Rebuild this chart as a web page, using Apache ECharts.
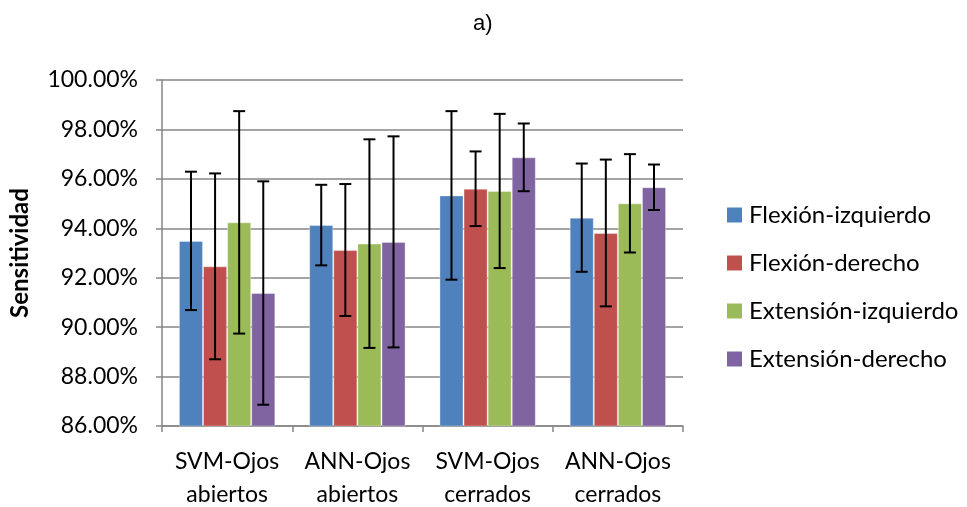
<!DOCTYPE html>
<html><head><meta charset="utf-8">
<script src="https://cdn.jsdelivr.net/npm/echarts@6/dist/echarts.min.js"></script>
<style>html,body{margin:0;padding:0;background:#fff}#c{width:967px;height:507px}</style>
</head><body><div id="c"></div>
<script>
const categories = ['SVM-Ojos\nabiertos', 'ANN-Ojos\nabiertos', 'SVM-Ojos\ncerrados', 'ANN-Ojos\ncerrados'];
const seriesNames = ['Flexión-izquierdo', 'Flexión-derecho', 'Extensión-izquierdo', 'Extensión-derecho'];
const flexIzq = [93.49, 94.13, 95.33, 94.43];
const flexDer = [92.46, 93.12, 95.60, 93.81];
const extIzq = [94.24, 93.38, 95.51, 95.01];
const extDer = [91.38, 93.45, 96.87, 95.66];
const errFlexIzq = [2.80, 1.63, 3.41, 2.19];
const errFlexDer = [3.76, 2.67, 1.51, 2.97];
const errExtIzq = [4.50, 4.22, 3.12, 1.99];
const errExtDer = [4.52, 4.27, 1.37, 0.92];
const yTicks = { min: 86, max: 100, interval: 2 };

const values = [flexIzq, flexDer, extIzq, extDer];
const errors = [errFlexIzq, errFlexDer, errExtIzq, errExtDer];
const colors = ['#4F81BD', '#C0504D', '#9BBB59', '#8064A2'];
const catGap = 0.26;
const font = 'Lato, "Open Sans", sans-serif';

const series = [];
values.forEach((v, i) => {
  series.push({
    name: seriesNames[i], type: 'bar', data: v,
    barGap: '0%', barCategoryGap: (catGap * 100) + '%',
    itemStyle: { color: colors[i], borderColor: 'rgba(255,255,255,0.35)', borderWidth: 1 },
    z: 2
  });
});
values.forEach((v, i) => {
  series.push({
    type: 'custom', name: seriesNames[i] + '-err', z: 5, silent: true,
    data: v.map((val, k) => [k, val - errors[i][k], val + errors[i][k]]),
    renderItem: function (params, api) {
      const k = api.value(0);
      const band = api.size([1, 0])[0];
      const bw = band * (1 - catGap) / 4;
      const base = api.coord([k, api.value(1)]);
      const top = api.coord([k, api.value(2)]);
      const x = base[0] - band * (1 - catGap) / 2 + bw * (i + 0.5);
      const cap = 6;
      const style = { stroke: '#000', lineWidth: 2 };
      return { type: 'group', children: [
        { type: 'line', shape: { x1: x, y1: top[1], x2: x, y2: base[1] }, style },
        { type: 'line', shape: { x1: x - cap, y1: top[1], x2: x + cap, y2: top[1] }, style },
        { type: 'line', shape: { x1: x - cap, y1: base[1], x2: x + cap, y2: base[1] }, style }
      ]};
    }
  });
});

const chart = echarts.init(document.getElementById('c'));
chart.setOption({
  animation: false,
  title: { text: 'a)', left: 468, top: 8,
    textStyle: { fontFamily: '"Liberation Sans", Arial, sans-serif', fontSize: 22, fontWeight: 'normal', color: '#000' } },
  legend: {
    data: seriesNames, orient: 'vertical', left: 727, top: 203, itemGap: 24, padding: 0,
    itemWidth: 15, itemHeight: 15, icon: 'rect', itemStyle: { borderWidth: 0 },
    textStyle: { fontFamily: font, fontSize: 24, color: '#000', padding: [0, 0, 0, 2] }
  },
  grid: { left: 162, right: 284, top: 80, bottom: 81, containLabel: false, outerBoundsMode: 'none' },
  xAxis: {
    type: 'category', data: categories,
    axisLine: { lineStyle: { color: '#868686', width: 1.5 } },
    axisTick: { show: true, length: 6, lineStyle: { color: '#868686', width: 1.5 } },
    axisLabel: { interval: 0, fontFamily: font, fontSize: 23, color: '#000', lineHeight: 33, margin: 19 }
  },
  yAxis: {
    type: 'value', min: yTicks.min, max: yTicks.max, interval: yTicks.interval,
    name: 'Sensitividad', nameLocation: 'middle', nameGap: 130, nameRotate: 90,
    nameTextStyle: { fontFamily: font, fontSize: 24, fontWeight: 'bold', color: '#000' },
    axisLine: { show: true, lineStyle: { color: '#868686', width: 1.5 } },
    axisTick: { show: true, length: 6, lineStyle: { color: '#868686', width: 1.5 } },
    splitLine: { lineStyle: { color: '#868686', width: 1.5 } },
    axisLabel: { fontFamily: font, fontSize: 23, color: '#000', margin: 24,
      formatter: v => v.toFixed(2) + '%' }
  },
  series
});
</script></body></html>
